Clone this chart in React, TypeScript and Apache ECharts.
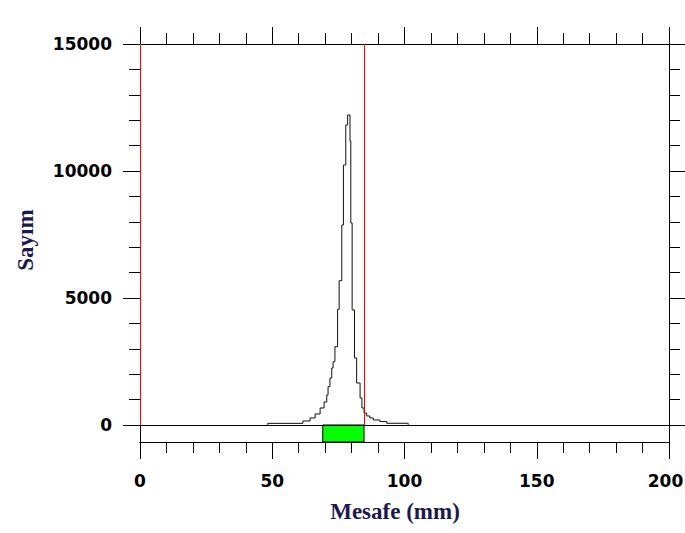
import React, { useEffect, useRef } from "react";
import * as echarts from "echarts";

// Histogram bin edges (mm) and counts
const binEdges = [48.3, 61.6, 64.3, 66.2, 68.1, 69.6, 70.6, 71.1, 71.8, 72.5, 73.0, 73.7, 74.7, 75.3, 76.3, 76.9, 77.8, 78.5, 79.4, 79.7, 80.2, 81.1, 81.9, 83.2, 83.9, 84.7, 85.7, 86.9, 88.2, 90.7, 93.3, 101.4];
const binCounts = [65, 157, 276, 433, 669, 906, 1181, 1508, 1850, 2244, 2492, 3083, 4555, 5681, 7874, 10236, 11811, 12205, 11180, 7953, 4528, 2638, 1654, 1063, 669, 472, 354, 276, 197, 138, 67];

const cursorLines = [0, 84.7];
const selectionBand = [69.1, 84.7];

const yMajorTicks = [0, 5000, 10000, 15000];
const yMinorTicks = [0, 1000, 2000, 3000, 4000, 5000, 6000, 7000, 8000, 9000, 10000, 11000, 12000, 13000, 14000, 15000];

const X_MIN = 0;
const X_MAX = 200;
const Y_MIN = -670;
const Y_MAX = 15000;

const xTitle = "Mesafe (mm)";
const yTitle = "Sayım";

export default function App() {
  const ref = useRef<HTMLDivElement>(null);
  useEffect(() => {
    if (!ref.current) return;
    const chart = echarts.init(ref.current, null, { renderer: "svg" });
    const data: number[][] = [[binEdges[0], 0]];
    for (let i = 0; i < binCounts.length; i++) data.push([binEdges[i], binCounts[i]]);
    data.push([binEdges[binEdges.length - 1], 0]);

    const lineStyle = { color: "#000", width: 1 };
    const labelFont = {
      fontFamily: "DejaVu Sans",
      fontWeight: "bold" as const,
      fontSize: 17,
      color: "#000",
    };
    const plain = (v: number) => String(v);
    const xFormatter = (v: number) => (v === X_MAX ? `{last|${v}}` : String(v));
    const baseX = (position: string, interval: number, len: number, showLabel: boolean) => ({
      type: "value" as const,
      min: X_MIN,
      max: X_MAX,
      interval,
      position,
      splitLine: { show: false },
      axisLine: { show: true, onZero: false, lineStyle },
      axisTick: { show: true, inside: false, length: len, lineStyle },
      axisLabel: showLabel
        ? {
            show: true,
            margin: 30,
            formatter: xFormatter,
            ...labelFont,
            rich: { last: { ...labelFont, padding: [0, 7, 0, 0] } },
          }
        : { show: false },
    });
    const baseY = (position: string, ticks: number[], len: number, showLabel: boolean) => ({
      type: "value" as const,
      min: Y_MIN,
      max: Y_MAX,
      position,
      splitLine: { show: false },
      axisLine: { show: true, onZero: false, lineStyle },
      axisTick: { show: true, inside: false, length: len, lineStyle, customValues: ticks },
      axisLabel: showLabel
        ? { show: true, margin: 28, customValues: ticks, formatter: plain, ...labelFont }
        : { show: false },
    });

    chart.setOption({
      animation: false,
      backgroundColor: "#fff",
      grid: {
        left: 140,
        right: 16,
        top: 44,
        bottom: 91,
        containLabel: false,
        outerBoundsMode: "none",
      },
      xAxis: [
        baseX("bottom", 50, 17, true),
        baseX("bottom", 10, 11, false),
        baseX("top", 50, 17, false),
        baseX("top", 10, 11, false),
      ],
      yAxis: [
        baseY("left", yMajorTicks, 17, true),
        baseY("left", yMinorTicks, 11, false),
        baseY("right", yMajorTicks, 17, false),
        baseY("right", yMinorTicks, 11, false),
      ],
      series: [
        {
          type: "line",
          xAxisIndex: 0,
          yAxisIndex: 0,
          data,
          step: "end",
          showSymbol: false,
          symbol: "none",
          lineStyle: { color: "#111", width: 1 },
          markArea: {
            silent: true,
            itemStyle: { color: "#00ff00", borderColor: "#000", borderWidth: 1 },
            data: [[{ coord: [selectionBand[0], Y_MIN] }, { coord: [selectionBand[1], 0] }]],
          },
          markLine: {
            silent: true,
            symbol: "none",
            label: { show: false },
            data: [
              [
                { coord: [X_MIN, 0], lineStyle: { color: "#000", width: 1, type: "solid" } },
                { coord: [X_MAX, 0] },
              ],
              ...cursorLines.map((c) => [
                { coord: [c, 0], lineStyle: { color: "#ff0000", width: 1, type: "solid" } },
                { coord: [c, Y_MAX] },
              ]),
            ],
          },
        },
      ],
      graphic: [
        {
          type: "text",
          x: 395,
          y: 511,
          style: {
            text: xTitle,
            fontFamily: "Liberation Serif",
            fontWeight: "bold",
            fontSize: 23,
            fill: "#1a1a50",
            textAlign: "center",
            textVerticalAlign: "middle",
          },
        },
        {
          type: "text",
          x: 25,
          y: 240,
          rotation: Math.PI / 2,
          style: {
            text: yTitle,
            fontFamily: "Liberation Serif",
            fontWeight: "bold",
            fontSize: 23,
            fill: "#1a1a50",
            textAlign: "center",
            textVerticalAlign: "middle",
          },
        },
      ],
    });
    return () => chart.dispose();
  }, []);
  return (
    <div
      ref={ref}
      style={{ position: "fixed", left: 0, top: 0, width: 685, height: 533 }}
    />
  );
}
